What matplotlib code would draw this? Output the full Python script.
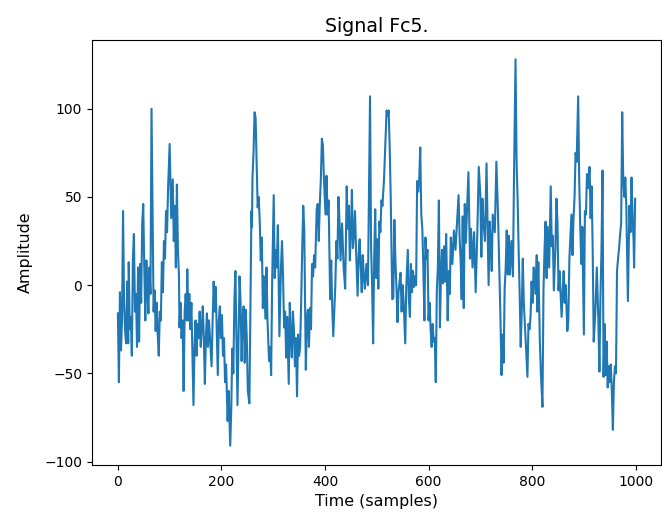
import matplotlib
matplotlib.use("Agg")
import matplotlib.pyplot as plt

# (sample, amplitude) pairs, one list per stretch
seg_0_100 = [(0, -16), (2, -55), (4, -4), (6, -37), (8, -20), (10, 42), (12, -10), (14, -26),
             (16, -33), (18, 2), (20, -33), (21, 13), (23, -25), (25, -18), (27, -40), (29, 15),
             (31, 29), (33, -15), (35, -5), (37, -35), (39, 10), (41, -32), (43, 12), (45, -10),
             (47, 35), (49, 46), (51, 10), (53, -20), (55, 14), (57, -5), (59, -16), (61, 10),
             (63, -5), (65, 100), (67, 40), (69, -15), (71, -3), (73, -26), (75, -10), (77, -28),
             (79, -40), (81, -15), (83, -20), (85, 13), (87, -4), (89, 25), (91, 15), (93, 42),
             (95, 30), (97, 55)]
seg_100_240 = [(100, 80), (103, 38), (106, 60), (108, 25), (110, 45), (112, 10), (114, 57),
               (116, 20), (118, 5), (119, -24), (121, -10), (123, -30), (125, -20), (127, -60),
               (129, -15), (131, -5), (133, -20), (134, 9), (136, -20), (138, -5), (140, -25),
               (142, -10), (144, -40), (146, -68), (148, -35), (150, -20), (152, -40), (154, -22),
               (156, -30), (158, -15), (160, -35), (162, -25), (164, -12), (166, -30), (168, -56),
               (170, -30), (172, -16), (174, -35), (176, -20), (178, -30), (181, -46), (183, -20),
               (185, 2), (187, -15), (189, -1), (191, -25), (193, -51), (195, -20), (197, -12),
               (199, -30), (201, -17), (203, -40), (205, -30), (207, -55), (209, -45), (212, -77),
               (214, -60), (217, -91), (219, -70), (221, -36), (223, -50), (225, -10), (227, 8),
               (229, -30), (231, -68), (233, -30), (235, 5), (237, -10), (239, -43)]
seg_240_385 = [(241, -19), (243, -12), (245, -44), (247, -14), (249, -30), (251, -60), (254, -67),
               (256, -10), (258, 42), (259, 33), (260, 61), (262, 75), (264, 98), (266, 95),
               (268, 70), (270, 44), (272, 50), (274, 36), (276, 14), (278, 27), (280, -13),
               (282, 5), (285, -19), (287, 10), (289, -20), (292, -43), (294, -35), (296, -51),
               (298, 2), (301, 51), (303, 4), (305, 20), (307, 10), (309, 34), (312, -29),
               (315, 10), (317, 25), (319, 5), (321, -24), (323, -15), (325, -41), (327, -18),
               (330, -56), (332, -10), (334, -30), (336, -41), (338, -15), (340, -25), (342, -46),
               (344, -30), (346, -63), (348, -28), (350, -40), (352, -35), (354, -10), (356, 20),
               (358, 45), (360, 31), (363, -48), (365, -20), (367, -14), (369, -35), (371, -13),
               (373, -25), (375, 12), (377, 5), (379, 17), (381, 10), (384, 43), (386, 46)]
seg_385_530 = [(388, 25), (390, 46), (392, 60), (394, 83), (396, 79), (398, 60), (401, 40),
               (403, 62), (405, 40), (407, 48), (410, -8), (412, 14), (414, -13), (416, -29),
               (418, -15), (420, 0), (422, 25), (424, 15), (426, 50), (428, 36), (430, 14),
               (433, 35), (436, 10), (439, -2), (442, 56), (444, 32), (446, 45), (448, 14),
               (450, 30), (452, 54), (454, 21), (456, 30), (458, 42), (460, 20), (463, -6),
               (465, 17), (467, 26), (469, 10), (471, -4), (473, 17), (475, 5), (477, -2),
               (480, 12), (483, 0), (487, 107), (489, 22), (491, 0), (493, -33), (495, 15),
               (497, 43), (499, 4), (501, 26), (503, -2), (505, 36), (507, 30), (509, 48),
               (511, 45), (514, 60), (517, 84), (519, 99), (521, 96), (523, 99), (525, 78),
               (527, 49), (530, -8)]
seg_530_680 = [(532, -7), (534, 37), (536, 14), (538, -1), (540, -21), (542, -4), (544, 2),
               (546, 7), (548, -15), (550, 0), (552, -10), (555, -33), (557, -1), (560, 20),
               (562, -8), (564, -18), (566, 12), (568, -4), (570, 8), (572, -1), (574, 5),
               (576, 0), (578, 59), (580, 53), (582, 60), (584, 78), (586, 40), (588, 32),
               (590, 10), (592, -20), (594, 27), (596, 15), (598, 20), (600, -20), (602, -10),
               (604, -25), (606, -35), (608, -22), (610, -32), (612, -30), (614, -55), (616, -3),
               (618, 10), (620, 48), (622, -24), (624, 5), (626, 20), (628, 1), (630, 22),
               (632, 2), (634, 29), (636, -5), (637, -20), (639, 8), (641, -5), (643, 27),
               (646, 12), (649, 31), (652, 20), (655, 35), (658, 51), (660, 27), (662, 14),
               (664, -8), (666, 39), (668, -13), (670, 46), (672, 24), (677, 64)]
seg_680_820 = [(680, 15), (682, 32), (685, 10), (688, 30), (691, -4), (694, 27), (697, 67),
               (700, 51), (702, 16), (704, 49), (706, 36), (709, 25), (712, 69), (714, 35),
               (716, 0), (718, 36), (720, 25), (722, 8), (724, 40), (728, 30), (731, 70),
               (734, 42), (737, 6), (739, -20), (741, -51), (743, -28), (745, -44), (747, -2),
               (749, 10), (751, 31), (753, 6), (755, 28), (757, 6), (760, 25), (763, 5),
               (765, 60), (768, 128), (770, 70), (772, 49), (774, 20), (776, -5), (778, -35),
               (780, -15), (782, 15), (784, -10), (786, -22), (788, -35), (791, -52), (793, -22),
               (795, -25), (797, -18), (799, 2), (801, -10), (803, 10), (805, 6), (807, -5),
               (809, 17), (810, -15), (812, 13), (815, -32), (817, -50), (820, -69)]
seg_820_1000 = [(822, -3), (824, 20), (826, 36), (828, 4), (830, 33), (833, 10), (836, 56),
                (838, 22), (840, 28), (842, -3), (845, 21), (847, 49), (849, 36), (851, -3),
                (853, 8), (855, -5), (857, -18), (859, -4), (861, 8), (863, -10), (865, 0),
                (868, -26), (870, -20), (872, 15), (874, 27), (876, 40), (878, 17), (880, 38),
                (882, 50), (884, 75), (886, 70), (889, 107), (891, 59), (893, 33), (895, 12),
                (897, 33), (900, -28), (902, 42), (904, 40), (906, 63), (908, 55), (911, 67),
                (913, 38), (915, 56), (917, 20), (919, -32), (922, -16), (925, 10), (928, -20),
                (930, -49), (932, -7), (934, 20), (936, 65), (938, -52), (940, -22), (942, -51),
                (944, -32), (946, -58), (948, -46), (950, -55), (952, -45), (954, -60), (956, -82),
                (958, -55), (960, -46), (962, -50), (964, 8), (966, 15), (968, 21), (970, 29),
                (972, 35), (974, 98), (976, 61), (978, 50), (980, 61), (982, 44), (984, 10),
                (985, -9), (988, 45), (990, 30), (992, 61), (994, 40), (996, 25), (997, 10),
                (999, 49)]

points = (seg_0_100 + seg_100_240 + seg_240_385 + seg_385_530
          + seg_530_680 + seg_680_820 + seg_820_1000)
samples = [p[0] for p in points]
amplitude = [p[1] for p in points]

fig = plt.figure(figsize=(6.62, 5.16), dpi=100)
ax = fig.add_axes([92 / 662, 51 / 516, 569 / 662, 425 / 516])
ax.plot(samples, amplitude, color="#1f77b4", linewidth=1.5)

ax.set_title("Signal Fc5.", fontsize=13.7)
ax.set_xlabel("Time (samples)", fontsize=11.4)
ax.set_ylabel("Amplitude", fontsize=11.4, labelpad=8)

fig.savefig("out.png", dpi=100)
